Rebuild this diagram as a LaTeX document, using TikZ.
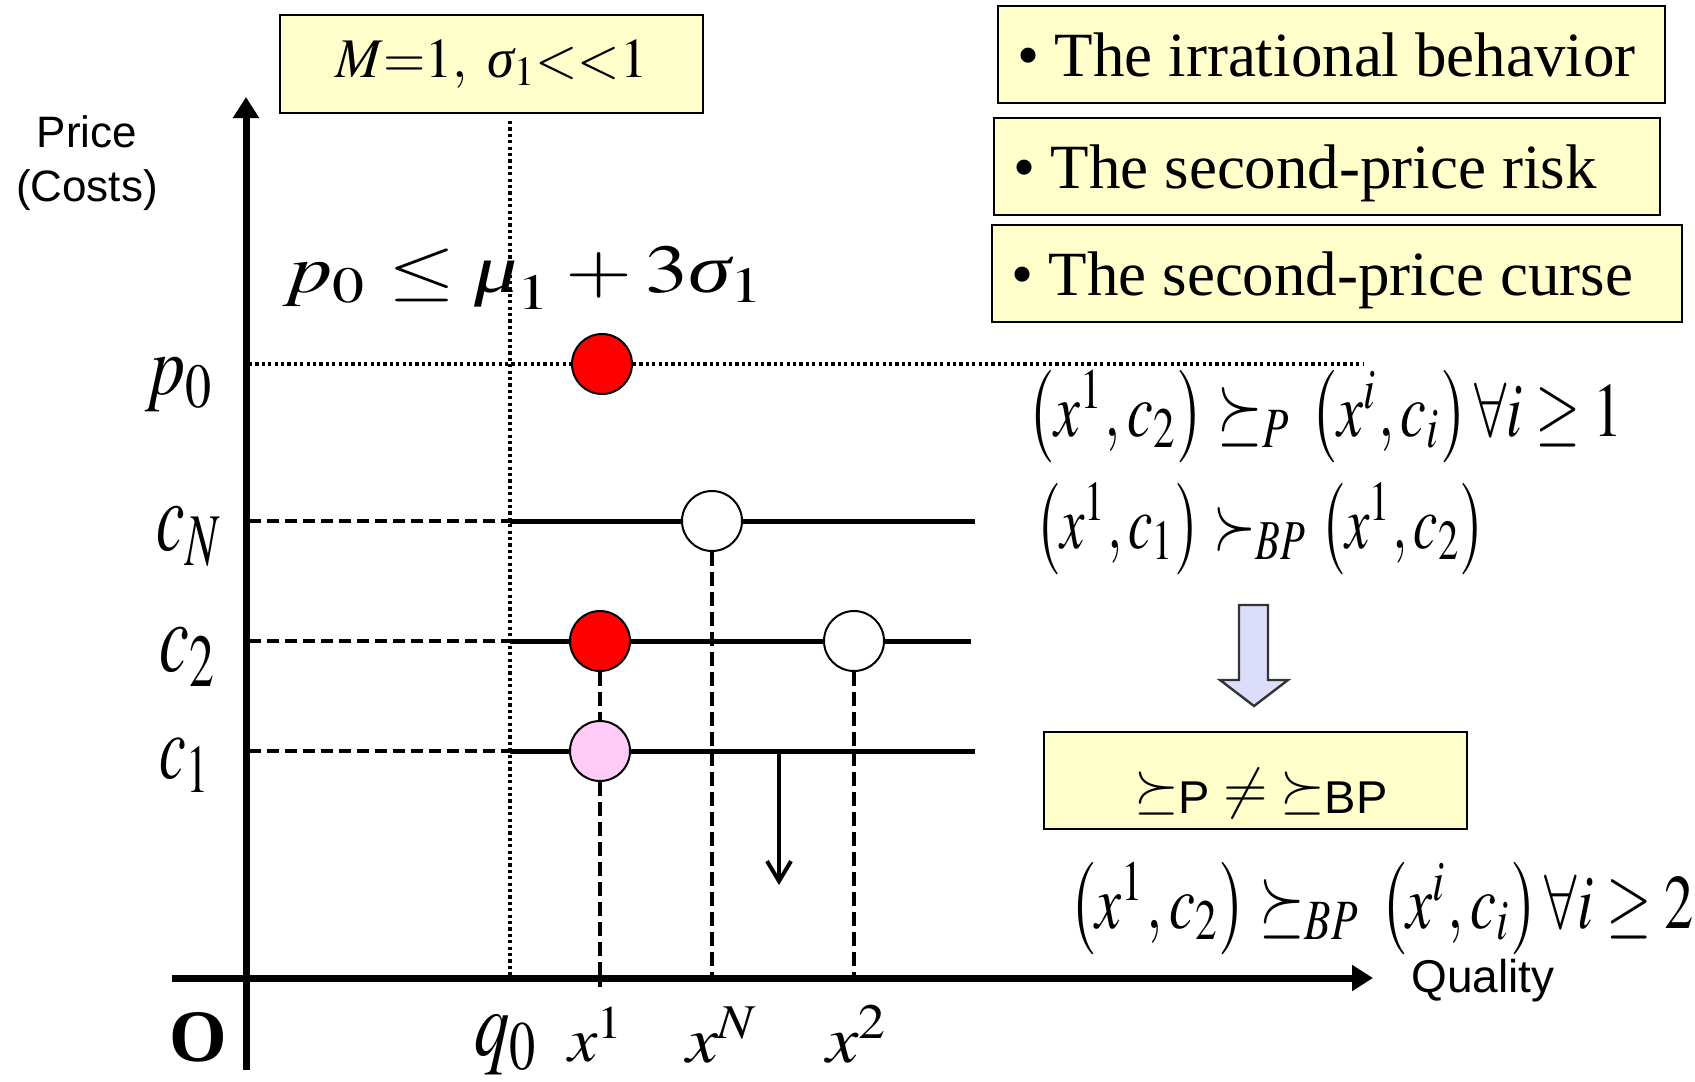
\documentclass[tikz,border=0pt]{standalone}
\usepackage{amsmath}
\usepackage{mathptmx}
\usepackage[no-math]{fontspec}
\setmainfont{Liberation Serif}
\setsansfont{Liberation Sans}
\usepackage{graphicx}
\usetikzlibrary{arrows.meta,positioning}
\definecolor{notefill}{HTML}{FFFFCC}
\definecolor{bidred}{HTML}{FF0000}
\definecolor{bidpink}{HTML}{FFCCF8}
\definecolor{implyfill}{HTML}{DCDDFA}
\definecolor{darkgray}{HTML}{333333}
\newlength{\pxu}\setlength{\pxu}{0.5pt}
\newcommand{\fitmath}[3]{\resizebox*{#1\pxu}{#2\pxu}{$#3$}}
\newcommand{\widemath}[2]{\resizebox{#1\pxu}{\height}{$#2$}}
\newcommand{\factline}[2]{\makebox[#1\pxu][l]{\textbullet\ #2}}
\newcommand{\sfsub}[1]{\text{\fontsize{23}{26}\sffamily\raisebox{-0.14em}{#1}}}
\newcommand{\gsig}{\text{\itshape σ}}
\newcommand{\gmu}{\text{\itshape μ}}

\begin{document}
\begin{tikzpicture}[
    x=\pxu, y=-\pxu,
    axis/.style={line width=3.5pt, -{Triangle[length=10.5pt,width=12.5pt]}},
    levelline/.style={line width=2.5pt},
    guidedash/.style={line width=1.7pt, dash pattern=on 6pt off 3pt},
    dropdash/.style={line width=1.6pt, dash pattern=on 7pt off 3pt},
    guidedot/.style={line width=2pt, dash pattern=on 1.6pt off 1.6pt},
    shiftarrow/.style={line width=2pt, -{Straight Barb[length=10pt,width=12pt]}},
    bid/.style={circle, draw=black, line width=1pt, minimum size=30pt, inner sep=0pt},
    notebox/.style={draw=black, line width=1pt, fill=notefill, inner sep=0pt},
    fact/.style={notebox, anchor=north west, minimum height=97\pxu, inner xsep=19\pxu,
                 text height=24pt, text depth=2.5pt, font=\fontsize{31.5}{36}\selectfont},
    implyarrow/.style={fill=implyfill, draw=darkgray, line width=1.2pt},
    lab/.style={inner sep=0pt},
    sans/.style={font=\sffamily\fontsize{22}{27}\selectfont}
]
    \useasboundingbox (0,0) rectangle (1695,1081);

    \coordinate (ytail) at (246,1070);
    \coordinate (ytip) at (246,97);
    \coordinate (xtail) at (172,978);
    \coordinate (xtip) at (1373,978);

    \coordinate (q0top) at (510,121);
    \coordinate (q0foot) at (510,982);
    \draw[guidedot] (q0top) -- (q0foot);

    \coordinate (p0L) at (249,364);
    \coordinate (p0R) at (1363,364);
    \draw[guidedot] (p0L) -- (p0R);

    \coordinate (cNL) at (249,521);
    \coordinate (cNM) at (510,521);
    \coordinate (cNR) at (975,521);
    \coordinate (c2L) at (249,641);
    \coordinate (c2M) at (510,641);
    \coordinate (c2R) at (971,641);
    \coordinate (c1L) at (249,751);
    \coordinate (c1M) at (510,751);
    \coordinate (c1R) at (975,751);
    \draw[guidedash] (cNL) -- (cNM);
    \draw[guidedash] (c2L) -- (c2M);
    \draw[guidedash] (c1L) -- (c1M);
    \draw[levelline] (cNM) -- (cNR);
    \draw[levelline] (c2M) -- (c2R);
    \draw[levelline] (c1M) -- (c1R);

    \draw[axis] (ytail) -- (ytip);
    \draw[axis] (xtail) -- (xtip);

    \node[bid, fill=bidred] (reserve) at (602,364) {};
    \node[bid, fill=white] (bidN) at (712,521) {};
    \node[bid, fill=bidred] (win) at (600,641) {};
    \node[bid, fill=white] (bid2) at (854,641) {};
    \node[bid, fill=bidpink] (true1) at (600,751) {};

    \coordinate (x1foot) at (600,987);
    \draw[dropdash] (win) -- (true1);
    \draw[dropdash] (true1) -- (x1foot);
    \draw[dropdash] (bidN) -- (bidN |- xtail);
    \draw[dropdash] (bid2) -- (bid2 |- xtail);

    \coordinate (shifttop) at (779,751);
    \coordinate (shifttip) at (779,885);
    \draw[shiftarrow] (shifttop) -- (shifttip);

    \node[lab, sans, align=center] (ylabel) at (87,163) {Price\\(Costs)};
    \node[lab, sans, font=\sffamily\fontsize{23}{27}\selectfont, anchor=base west] (xlabel) at (1411,992) {Quality};
    \node[lab, font=\bfseries\fontsize{37}{40}\selectfont] (origin) at (198,1037) {O};

    \node[lab] (lp0) at (180,385) {\fitmath{70}{54}{p_{0}}};
    \node[lab] (lcN) at (190,537) {\fitmath{66}{60}{c_{N}}};
    \node[lab] (lc2) at (189,657) {\fitmath{58}{59}{c_{2}}};
    \node[lab] (lc1) at (186,765) {\fitmath{52}{54}{c_{1}}};
    \node[lab] (lq0) at (507,1045) {\fitmath{65}{60}{q_{0}}};
    \node[lab] (lx1) at (597,1035) {\fitmath{57}{55}{x^{1}}};
    \node[lab] (lxN) at (723,1035) {\fitmath{74}{56}{x^{N}}};
    \node[lab] (lx2) at (858,1034) {\fitmath{63}{58}{x^{2}}};

    \node[notebox, minimum width=423\pxu, minimum height=98\pxu, font=\fontsize{28}{32}\selectfont] (setting) at (491.5,64)
        {\widemath{312}{M{=}1,\ \gsig_{1}{<<}1}};
    \node[lab] (cap) at (525,278) {\fitmath{484}{63}{p_{0}\leq\gmu_{1}+3\gsig_{1}}};

    \node[fact] (irrational) at (997,5) {\factline{629}{The irrational behavior}};
    \node[fact] (risk) at (993,117) {\factline{628}{The second-price risk}};
    \node[fact] (curse) at (991,224) {\factline{652}{The second-price curse}};

    \node[lab] (prefP) at (1325.5,416.5)
        {\fitmath{595}{93}{\bigl(x^{1},c_{2}\bigr)\succeq_{P}\,\bigl(x^{i},c_{i}\bigr)\,\forall i\geq 1}};
    \node[lab] (prefBP) at (1260.5,529)
        {\fitmath{451}{92}{\bigl(x^{1},c_{1}\bigr)\succ_{BP}\bigl(x^{1},c_{2}\bigr)}};

    \draw[implyarrow] (1239,605) -- (1268,605) -- (1268,680) -- (1288,680) -- (1254,706) -- (1220,680) -- (1239,680) -- cycle;

    \node[notebox, minimum width=423\pxu, minimum height=97\pxu] (mismatch) at (1255.5,780.5) {};
    \node[lab, font=\fontsize{28}{32}\selectfont] (mismatchtext) at (1261,793)
        {\widemath{253}{{\succeq}\sfsub{P}\neq{\succeq}\sfsub{BP}}};

    \node[lab] (prefBP2) at (1381.5,908.5)
        {\fitmath{625}{93}{\bigl(x^{1},c_{2}\bigr)\succeq_{BP}\,\bigl(x^{i},c_{i}\bigr)\,\forall i\geq 2}};
\end{tikzpicture}
\end{document}
